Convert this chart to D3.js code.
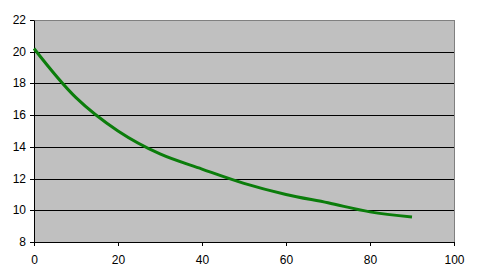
<!DOCTYPE html>
<html>
<head>
<meta charset="utf-8">
<script src="https://cdn.jsdelivr.net/npm/d3@7"></script>
<style>
  body { margin: 0; background: #fff; }
  svg { display: block; }
  .axis text { font-family: "Liberation Sans", Arial, sans-serif; font-size: 12px; fill: #000; }
</style>
</head>
<body>
<script>
// data
var xValues = [0, 10, 20, 30, 40, 50, 60, 70, 80, 90];
var yValues = [20.2, 17.1, 15.0, 13.55, 12.6, 11.7, 11.0, 10.47, 9.9, 9.58];
var xTicks = [0, 20, 40, 60, 80, 100];
var yTicks = [8, 10, 12, 14, 16, 18, 20, 22];

var w = 482, h = 270;

var svg = d3.select("body").append("svg")
  .attr("width", w)
  .attr("height", h);

var x = d3.scaleLinear().domain([0, 100]).range([34, 454]);
var y = d3.scaleLinear().domain([8, 22]).range([242, 20]);

// plot area, gray border top/right
svg.append("rect")
  .attr("x", x(0) + 0.5)
  .attr("y", y(22) + 0.5)
  .attr("width", x(100) - x(0))
  .attr("height", y(8) - y(22))
  .attr("fill", "#c0c0c0")
  .attr("stroke", "#808080")
  .attr("stroke-width", 1);

// gridlines
svg.append("g")
  .selectAll("line")
  .data(yTicks.filter(d => d > 8 && d < 22))
  .enter()
  .append("line")
    .attr("x1", x(0))
    .attr("x2", x(100))
    .attr("y1", d => Math.round(y(d)) + 0.5)
    .attr("y2", d => Math.round(y(d)) + 0.5)
    .attr("stroke", "#000")
    .attr("stroke-width", 1);

// axes
var yAxis = svg.append("g")
  .attr("class", "axis")
  .attr("transform", "translate(" + x(0) + ",0)")
  .call(d3.axisLeft(y).tickValues(yTicks).tickSize(4).tickSizeOuter(0).tickPadding(4));

// snap y ticks onto the gridlines
yAxis.selectAll(".tick")
  .attr("transform", d => "translate(0," + (Math.round(y(d)) + 0.5) + ")");

var xAxis = svg.append("g")
  .attr("class", "axis")
  .attr("transform", "translate(0," + y(8) + ")")
  .call(d3.axisBottom(x).tickValues(xTicks).tickSize(4).tickSizeOuter(0).tickPadding(9));

svg.selectAll(".axis path, .axis line").attr("stroke", "#000");

// the series
var line = d3.line()
  .x((d, i) => x(xValues[i]))
  .y(d => y(d))
  .curve(d3.curveCatmullRom);

svg.append("path")
  .datum(yValues)
  .attr("d", line)
  .attr("fill", "none")
  .attr("stroke", "#0b7d0b")
  .attr("stroke-width", 3)
  .attr("stroke-linejoin", "round");
</script>
</body>
</html>
